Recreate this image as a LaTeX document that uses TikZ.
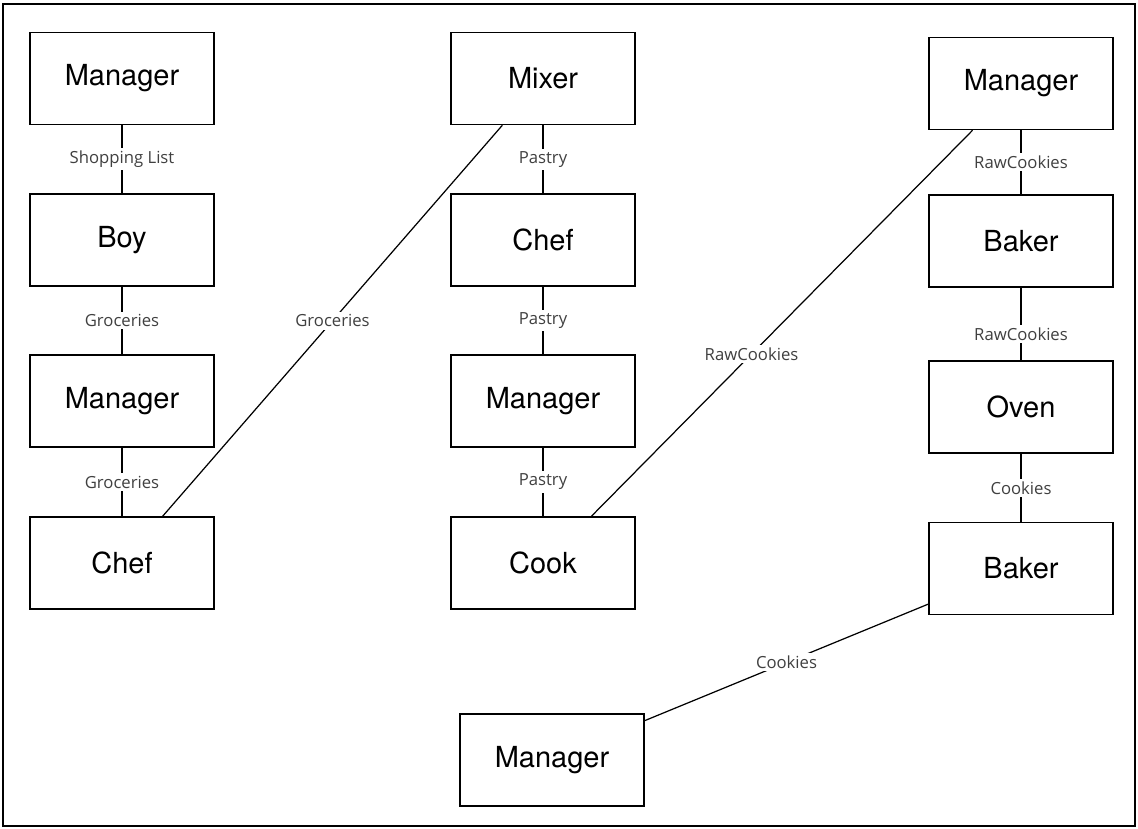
\documentclass[tikz,border=0pt]{standalone}
\usepackage{fontspec}
\setmainfont{TeX Gyre Heros}
\newfontfamily\labelfont{Open Sans}
\begin{document}
\begin{tikzpicture}
	\tikzstyle{box}=[draw, line width=0.9pt, minimum width=3.68cm, minimum height=1.84cm, inner sep=0pt, font=\fontsize{16.5}{19}\selectfont]
	\tikzstyle{flow}=[fill=white, inner sep=1.5pt, text=black!75, font=\labelfont\fontsize{9.5}{11}\selectfont]
	\useasboundingbox (0,0) rectangle (22.76,16.56);
	\draw[line width=1.5pt] (0.06,0.04) rectangle (22.70,16.48);
	% shopping
	\node[box] (manA) at (2.44,14.99) {Manager};
	\node[box] (boy) at (2.44,11.76) {Boy};
	\node[box] (manB) at (2.44,8.54) {Manager};
	\node[box] (chefA) at (2.44,5.30) {Chef};
	% pastry
	\node[box] (mixer) at (10.86,14.99) {Mixer};
	\node[box] (chefB) at (10.86,11.76) {Chef};
	\node[box] (manC) at (10.86,8.54) {Manager};
	\node[box] (cook) at (10.86,5.30) {Cook};
	% baking
	\node[box] (manD) at (20.42,14.89) {Manager};
	\node[box] (bakerA) at (20.42,11.74) {Baker};
	\node[box] (oven) at (20.42,8.42) {Oven};
	\node[box] (bakerB) at (20.42,5.19) {Baker};
	\node[box] (manE) at (11.04,1.36) {Manager};
	\begin{scope}[line width=0.7pt]
	\draw (manA) -- (boy) node[flow,midway] {Shopping List};
	\draw (boy) -- (manB) node[flow,midway] {Groceries};
	\draw (manB) -- (chefA) node[flow,midway] {Groceries};
	\draw (chefA.49) -- (mixer.229) node[flow,midway] {Groceries};
	\draw (mixer) -- (chefB) node[flow,midway] {Pastry};
	\draw (chefB) -- (manC) node[flow,midway] {Pastry};
	\draw (manC) -- (cook) node[flow,midway] {Pastry};
	\draw (cook.44) -- (manD.224) node[flow,pos=0.42] {RawCookies};
	\draw (manD) -- (bakerA) node[flow,midway] {RawCookies};
	\draw (bakerA) -- (oven) node[flow,pos=0.64] {RawCookies};
	\draw (oven) -- (bakerB) node[flow,midway] {Cookies};
	\draw (bakerB.201.6) -- (manE.23.5) node[flow,midway] {Cookies};
	\end{scope}
\end{tikzpicture}
\end{document}
